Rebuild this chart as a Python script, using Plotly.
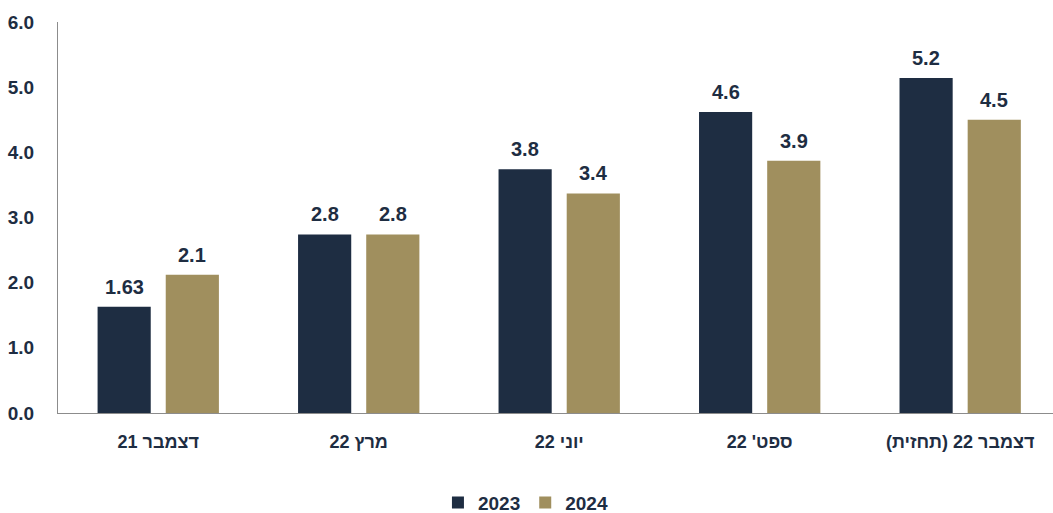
import plotly.graph_objects as go

categories = ["דצמבר 21", "מרץ 22", "יוני 22", "ספט' 22", "דצמבר 22 (תחזית)\u200f"]
series_names = ["2023", "2024"]
values_2023 = [1.63, 2.74, 3.74, 4.62, 5.14]
values_2024 = [2.12, 2.74, 3.37, 3.87, 4.50]
labels_2023 = ["1.63", "2.8", "3.8", "4.6", "5.2"]
labels_2024 = ["2.1", "2.8", "3.4", "3.9", "4.5"]
y_ticks = [0, 1, 2, 3, 4, 5, 6]

NAVY = "#1e2d42"
GOLD = "#a08f5e"
FONT = "Liberation Sans, Arial, sans-serif"

fig = go.Figure()
fig.add_trace(go.Bar(x=categories, y=values_2023, name=series_names[0],
                     marker=dict(color=NAVY, line=dict(width=0))))
fig.add_trace(go.Bar(x=categories, y=values_2024, name=series_names[1],
                     marker=dict(color=GOLD, line=dict(width=0))))

annotations = []
offset = 0.17
for i in range(len(categories)):
    for val, lab, dx in ((values_2023[i], labels_2023[i], -offset),
                         (values_2024[i], labels_2024[i], offset)):
        annotations.append(dict(
            x=i + dx, y=val, xref="x", yref="y", text=lab, showarrow=False,
            yanchor="bottom", yshift=7,
            font=dict(family=FONT, size=20, color=NAVY, weight="bold")))

fig.update_layout(
    width=1053, height=513,
    margin=dict(l=58, r=0, t=22, b=100),
    plot_bgcolor="white", paper_bgcolor="white",
    barmode="group", bargap=0.32, bargroupgap=0.22,
    showlegend=True,
    legend=dict(orientation="h", xref="container", yref="container",
                x=0.499, xanchor="center", y=0.02, yanchor="middle",
                font=dict(family=FONT, size=19, color=NAVY, weight="bold"),
                itemwidth=30, traceorder="normal"),
    annotations=annotations,
    xaxis=dict(range=[-0.5, 4.463], showline=True, linecolor="#8c8c8c", linewidth=1.3,
               showgrid=False, ticks="", ticklabelstandoff=12,
               tickfont=dict(family=FONT, size=18, color=NAVY, weight="bold")),
    yaxis=dict(range=[0, 6], tickvals=y_ticks, tickformat=".1f",
               showline=True, linecolor="#8c8c8c", linewidth=1.3,
               showgrid=False, zeroline=False, ticks="", ticklabelstandoff=19,
               tickfont=dict(family=FONT, size=19, color=NAVY, weight="bold")),
)

fig.write_html("out.html")
